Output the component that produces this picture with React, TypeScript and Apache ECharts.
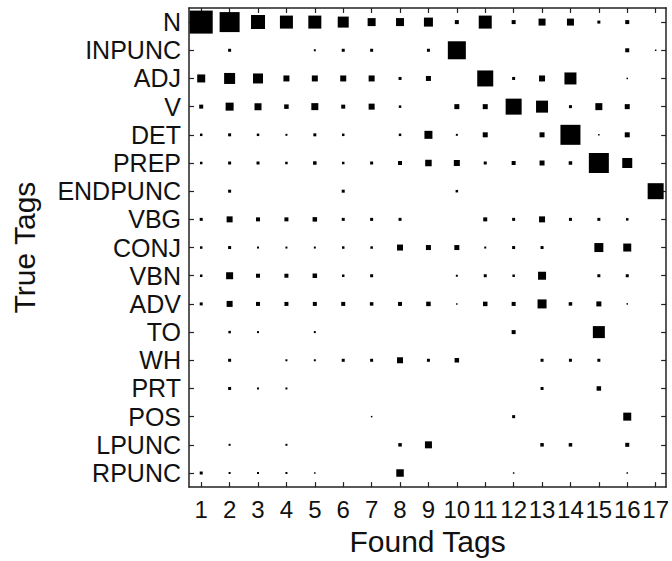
import React, { useEffect, useRef } from "react";
import * as echarts from "echarts";

// Found-tag columns (x) and true-tag rows (y)
const foundTags = [1, 2, 3, 4, 5, 6, 7, 8, 9, 10, 11, 12, 13, 14, 15, 16, 17];
const trueTags = [
  "N", "INPUNC", "ADJ", "V", "DET", "PREP", "ENDPUNC", "VBG", "CONJ",
  "VBN", "ADV", "TO", "WH", "PRT", "POS", "LPUNC", "RPUNC",
];

// Hinton magnitudes (relative square side), one array per true tag, columns 1..17
const rowN = [23, 20, 14, 13, 13, 11, 8, 8, 9, 4, 13, 4, 7, 7, 3, 4, 0];
const rowINPUNC = [0, 3, 0, 0, 2, 3, 3, 0, 3, 18, 0, 0, 0, 0, 0, 4, 1.5];
const rowADJ = [8, 11, 10, 6, 6, 6, 6, 3, 5, 0, 16, 3, 6, 12, 0, 1.5, 0];
const rowV = [4, 8, 7, 4.5, 7, 4, 6, 2.5, 0, 5, 5, 16, 12, 3, 7, 5, 0];
const rowDET = [2.5, 3, 2.5, 2, 3, 2.5, 0, 2.5, 8, 2, 5, 0, 5, 20, 1.5, 5, 0];
const rowPREP = [2.5, 3, 3, 2.5, 3.5, 2.5, 3, 4, 6.5, 6, 3, 4, 5, 3.5, 20, 10, 0];
const rowENDPUNC = [0, 3, 0, 0, 0, 3, 0, 0, 0, 2.5, 0, 0, 0, 0, 0, 0, 16];
const rowVBG = [3, 6, 4, 4, 4.5, 3, 3, 3, 0, 0, 4, 3, 6, 3, 3, 2.5, 0];
const rowCONJ = [2.5, 3, 2, 2, 2, 2.5, 2.5, 6, 5, 5, 2, 3, 3, 0, 9, 8, 0];
const rowVBN = [2.5, 7, 4, 4, 4.5, 2.5, 3, 0, 0, 2, 3, 2.5, 8, 0, 3, 3, 0];
const rowADV = [3, 6, 4, 4, 4, 4, 3.5, 4, 4.5, 1.5, 4.5, 4, 9, 3.5, 5, 1.5, 0];
const rowTO = [0, 2.5, 2, 0, 2, 0, 0, 0, 0, 0, 0, 4, 0, 0, 12, 0, 0];
const rowWH = [0, 3, 0, 2, 2, 3, 3, 6, 3, 4.5, 0, 0, 3, 3, 3, 0, 0];
const rowPRT = [0, 3, 2, 2, 0, 0, 0, 0, 0, 0, 0, 0, 3, 0, 4.5, 0, 0];
const rowPOS = [0, 0, 0, 0, 0, 0, 1.5, 0, 0, 0, 0, 3, 0, 0, 0, 8, 0];
const rowLPUNC = [0, 2, 0, 2, 0, 0, 0, 3.5, 7, 0, 0, 0, 3.5, 3.5, 0, 4, 0];
const rowRPUNC = [3, 2, 2, 2, 1.5, 0, 0, 7.5, 0, 0, 0, 1.5, 0, 0, 0, 1.5, 0];

const rows = [
  rowN, rowINPUNC, rowADJ, rowV, rowDET, rowPREP, rowENDPUNC, rowVBG, rowCONJ,
  rowVBN, rowADV, rowTO, rowWH, rowPRT, rowPOS, rowLPUNC, rowRPUNC,
];

const FONT = "'Liberation Sans', Arial, sans-serif";
const AXIS_COLOR = "#222";

export default function App() {
  const ref = useRef<HTMLDivElement>(null);

  useEffect(() => {
    if (!ref.current) return;
    const chart = echarts.init(ref.current, undefined, { renderer: "svg" });

    const data: number[][] = [];
    rows.forEach((r, ri) => {
      r.forEach((v, ci) => {
        if (v > 0) data.push([foundTags[ci], ri + 1, v]);
      });
    });
    const maxMag = Math.max(...data.map((d) => d[2]));
    const tickVals = foundTags.slice();
    const rowVals = trueTags.map((_, i) => i + 1);

    const baseX = {
      type: "value",
      min: 0.57,
      max: 17.37,
      splitLine: { show: false },
      axisLine: { show: true, onZero: false, lineStyle: { color: AXIS_COLOR, width: 1.5 } },
      axisTick: { show: true, inside: true, length: 5, customValues: tickVals, lineStyle: { color: AXIS_COLOR, width: 1.2 } },
    };
    const baseY = {
      type: "value",
      inverse: true,
      min: 0.5,
      max: 17.5,
      splitLine: { show: false },
      axisLine: { show: true, onZero: false, lineStyle: { color: AXIS_COLOR, width: 1.5 } },
      axisTick: { show: true, inside: true, length: 5, customValues: rowVals, lineStyle: { color: AXIS_COLOR, width: 1.2 } },
    };

    chart.setOption({
      animation: false,
      backgroundColor: "#fff",
      grid: { left: 189, top: 8, width: 479, height: 483, containLabel: false },
      xAxis: [
        {
          ...baseX,
          position: "bottom",
          name: "Found Tags",
          nameLocation: "middle",
          nameGap: 38,
          nameTextStyle: { fontFamily: FONT, fontSize: 30, color: "#111" },
          axisLabel: {
            show: true,
            customValues: tickVals,
            margin: 10,
            fontFamily: FONT,
            fontSize: 24,
            color: "#111",
            formatter: (v: number) => String(v),
          },
        },
        {
          ...baseX,
          position: "top",
          axisLabel: { show: false },
        },
      ],
      yAxis: [
        {
          ...baseY,
          position: "left",
          name: "True Tags",
          nameLocation: "middle",
          nameGap: 150,
          nameRotate: 90,
          nameTextStyle: { fontFamily: FONT, fontSize: 30, color: "#111" },
          axisLabel: {
            show: true,
            customValues: rowVals,
            margin: 8,
            fontFamily: FONT,
            fontSize: 25,
            color: "#111",
            formatter: (v: number) => trueTags[Math.round(v) - 1] ?? "",
          },
        },
        {
          ...baseY,
          position: "right",
          axisLabel: { show: false },
        },
      ],
      series: [
        {
          type: "custom",
          xAxisIndex: 0,
          yAxisIndex: 0,
          data,
          renderItem: (params: any, api: any) => {
            const c = api.coord([api.value(0), api.value(1)]);
            const cell = api.size([1, 1]);
            const side = Math.max(1.5, (api.value(2) / maxMag) * 0.81 * cell[0]);
            return {
              type: "rect",
              shape: { x: c[0] - side / 2, y: c[1] - side / 2, width: side, height: side },
              style: { fill: "#000" },
            };
          },
        },
      ],
    });

    return () => chart.dispose();
  }, []);

  return <div ref={ref} style={{ width: 672, height: 561, position: "absolute", left: 0, top: 0 }} />;
}
